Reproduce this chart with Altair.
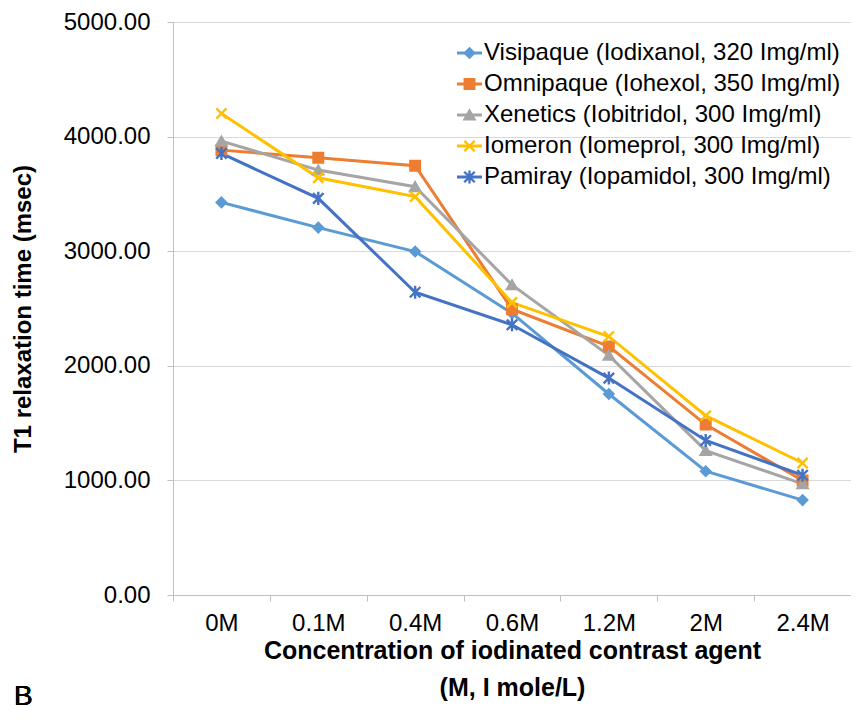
import altair as alt
import pandas as pd

categories = ["0M", "0.1M", "0.4M", "0.6M", "1.2M", "2M", "2.4M"]
series_names = [
    "Visipaque (Iodixanol, 320 Img/ml)",
    "Omnipaque (Iohexol, 350 Img/ml)",
    "Xenetics (Iobitridol, 300 Img/ml)",
    "Iomeron (Iomeprol, 300 Img/ml)",
    "Pamiray (Iopamidol, 300 Img/ml)",
]
visipaque = [3426, 3206, 2997, 2459, 1754, 1080, 828]
omnipaque = [3882, 3815, 3746, 2494, 2169, 1487, 999]
xenetics = [3961, 3708, 3563, 2706, 2091, 1260, 970]
iomeron = [4201, 3641, 3476, 2552, 2256, 1565, 1152]
pamiray = [3853, 3461, 2642, 2358, 1893, 1348, 1045]
y_ticks = [0, 1000, 2000, 3000, 4000, 5000]

colors = ["#5B9BD5", "#ED7D31", "#A5A5A5", "#FFC000", "#4472C4"]
shapes = [
    "diamond",
    "square",
    "triangle-up",
    "M-1,-1L1,1M-1,1L1,-1",
    "M-1,-1L1,1M-1,1L1,-1M0,-1.25L0,1.25",
]
sizes = [85, 110, 105, 150, 150]

rows = []
for name, vals in zip(series_names, [visipaque, omnipaque, xenetics, iomeron, pamiray]):
    for c, v in zip(categories, vals):
        rows.append({"series": name, "conc": c, "t1": v})
df = pd.DataFrame(rows)
legend_df = pd.DataFrame({"series": series_names})

FONT = "Liberation Sans"
color_scale = alt.Scale(domain=series_names, range=colors)
shape_scale = alt.Scale(domain=series_names, range=shapes)
size_scale = alt.Scale(domain=series_names, range=sizes)

x_enc = alt.X(
    "conc:N",
    sort=categories,
    bandPosition=0.5,
    scale=alt.Scale(type="band", domain=categories, paddingInner=0, paddingOuter=0),
    axis=alt.Axis(
        labelAngle=0,
        tickBand="extent",
        tickSize=6,
        tickColor="#bfbfbf",
        domainColor="#bfbfbf",
        labelPadding=10,
        labelFontSize=24,
        labelFont=FONT,
        labelColor="black",
        title=["Concentration of iodinated contrast agent", "(M, I mole/L)"],
        titleFont=FONT,
        titleFontSize=25,
        titleFontWeight="bold",
        titleColor="black",
        titleLineHeight=37,
        titlePadding=3,
        grid=False,
    ),
)
y_scale = alt.Scale(domain=[0, 5000], nice=False, zero=True)
y_enc = alt.Y(
    "t1:Q",
    scale=y_scale,
    axis=alt.Axis(
        values=y_ticks,
        format=".2f",
        grid=True,
        gridColor="#d9d9d9",
        domainColor="#bfbfbf",
        tickColor="#bfbfbf",
        tickSize=6,
        labelPadding=17,
        labelFontSize=24,
        labelFont=FONT,
        labelColor="black",
        title="T1 relaxation time (msec)",
        titleFont=FONT,
        titleFontSize=24,
        titleFontWeight="bold",
        titleColor="black",
        titlePadding=28,
    ),
)

lines = alt.Chart(df).mark_line(strokeWidth=3).encode(
    x=x_enc,
    y=y_enc,
    color=alt.Color("series:N", scale=color_scale, legend=None),
    detail="series:N",
)
points = alt.Chart(df).mark_point(filled=True, strokeWidth=2.4, opacity=1).encode(
    x=x_enc,
    y=alt.Y("t1:Q", scale=y_scale, axis=None),
    color=alt.Color("series:N", scale=color_scale, legend=None),
    stroke=alt.Stroke("series:N", scale=color_scale, legend=None),
    shape=alt.Shape("series:N", scale=shape_scale, legend=None),
    size=alt.Size("series:N", scale=size_scale, legend=None),
)

leg_y = alt.Y(
    "series:N",
    sort=series_names,
    scale=alt.Scale(type="point", domain=series_names, range=[31, 155], padding=0),
    axis=None,
)
leg_rule = alt.Chart(legend_df).mark_rule(strokeWidth=3).encode(
    x=alt.value(284),
    x2=alt.value(309),
    y=leg_y,
    color=alt.Color("series:N", scale=color_scale, legend=None),
)
leg_pts = alt.Chart(legend_df).mark_point(filled=True, strokeWidth=2.4, opacity=1).encode(
    x=alt.value(296.5),
    y=leg_y,
    color=alt.Color("series:N", scale=color_scale, legend=None),
    stroke=alt.Stroke("series:N", scale=color_scale, legend=None),
    shape=alt.Shape("series:N", scale=shape_scale, legend=None),
    size=alt.Size("series:N", scale=size_scale, legend=None),
)
leg_text = alt.Chart(legend_df).mark_text(
    align="left", baseline="middle", font=FONT, fontSize=24, color="black"
).encode(
    x=alt.value(311),
    y=leg_y,
    text="series:N",
)
panel_label = alt.Chart(legend_df).mark_text(
    align="left", baseline="alphabetic", font=FONT, fontSize=28, fontWeight="normal",
    color="black", text="B"
).encode(x=alt.value(-159), y=alt.value(683))

chart = (
    alt.layer(lines, points, leg_rule, leg_pts, leg_text, panel_label)
    .resolve_scale(y="independent")
    .properties(
        width=678,
        height=573,
        padding={"left": 165, "top": 14, "right": 0, "bottom": 117},
        autosize=alt.AutoSizeParams(type="none"),
        background="white",
    )
    .configure_view(stroke=None)
)

chart.save("out.html", embed_options={"renderer": "svg", "actions": False})
